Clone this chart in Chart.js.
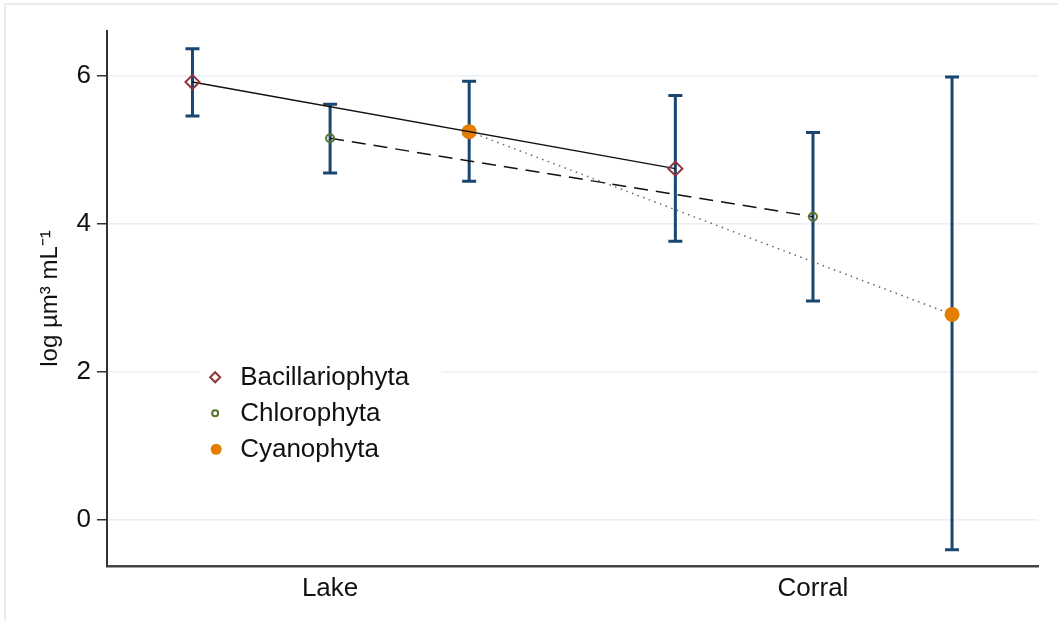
<!DOCTYPE html>
<html>
<head>
<meta charset="utf-8">
<script src="https://cdn.jsdelivr.net/npm/chart.js@4/dist/chart.umd.min.js"></script>
<style>
  html, body { margin: 0; padding: 0; background: #fff; }
  #wrap { position: relative; width: 1058px; height: 621px; }
  #frame { position: absolute; left: 4px; top: 3px; right: 0; bottom: 0;
           border-left: 2px solid #e8edf2; border-top: 2px solid #e8edf2; }
  canvas { position: absolute; left: 0; top: 0; }
</style>
</head>
<body>
<div id="wrap">
  <div id="frame"></div>
  <canvas id="chart" width="1058" height="621"></canvas>
</div>
<script>
// categories on the x axis and where each group sits relative to them
const categories = ['Lake', 'Corral'];
const categoryPos = [1, 2];
const groupOffset = [-0.285, 0, 0.288];
const yTicks = [0, 2, 4, 6];

const seriesNames = ['Bacillariophyta', 'Chlorophyta', 'Cyanophyta'];

// log µm³ mL⁻¹ : mean and 95% CI, per category
const bacMean = [5.92, 4.75];
const bacLow  = [5.46, 3.77];
const bacHigh = [6.37, 5.74];

const chlMean = [5.16, 4.10];
const chlLow  = [4.69, 2.96];
const chlHigh = [5.62, 5.24];

const cyaMean = [5.25, 2.78];
const cyaLow  = [4.58, -0.40];
const cyaHigh = [5.93, 5.99];

const NAVY = '#1a476f';
const MAROON = '#90353b';
const GREEN = '#55752f';
const ORANGE = '#e37e00';
const FONT = "'Liberation Sans', Arial, Helvetica, sans-serif";

function points(mean, low, high, k) {
    return mean.map((m, i) => ({ x: categoryPos[i] + groupOffset[k], y: m, lo: low[i], hi: high[i] }));
}

// error bars are drawn under the lines
const errorBars = {
    id: 'errorBars',
    beforeDatasetsDraw(chart) {
        const { ctx, scales: { x, y } } = chart;
        ctx.save();
        ctx.strokeStyle = NAVY;
        ctx.lineWidth = 3;
        chart.data.datasets.forEach(ds => {
            ds.data.forEach(p => {
                const px = x.getPixelForValue(p.x);
                const top = y.getPixelForValue(p.hi);
                const bot = y.getPixelForValue(p.lo);
                ctx.beginPath();
                ctx.moveTo(px, top); ctx.lineTo(px, bot);
                ctx.moveTo(px - 7, top); ctx.lineTo(px + 7, top);
                ctx.moveTo(px - 7, bot); ctx.lineTo(px + 7, bot);
                ctx.stroke();
            });
        });
        ctx.restore();
    }
};

// legend box inside the plot
const insideLegend = {
    id: 'insideLegend',
    beforeDatasetsDraw(chart) {
        const { ctx, scales: { x, y } } = chart;
        const left = x.getPixelForValue(0.762);
        const top = y.getPixelForValue(2.12);
        ctx.save();
        ctx.fillStyle = '#fff';
        ctx.fillRect(left - 16, top - 6, 242, 108);
        ctx.font = '26px ' + FONT;
        ctx.textBaseline = 'middle';
        const rows = [top + 14, top + 50, top + 86];
        const mx = left;
        // diamond
        ctx.strokeStyle = MAROON; ctx.lineWidth = 2;
        ctx.beginPath();
        ctx.moveTo(mx, rows[0] - 5); ctx.lineTo(mx + 5, rows[0]);
        ctx.lineTo(mx, rows[0] + 5); ctx.lineTo(mx - 5, rows[0]);
        ctx.closePath(); ctx.stroke();
        // hollow circle
        ctx.strokeStyle = GREEN;
        ctx.beginPath(); ctx.arc(mx, rows[1], 3, 0, Math.PI * 2); ctx.stroke();
        // filled circle
        ctx.fillStyle = ORANGE;
        ctx.beginPath(); ctx.arc(mx + 1, rows[2], 5.5, 0, Math.PI * 2); ctx.fill();
        ctx.fillStyle = '#111';
        seriesNames.forEach((n, i) => ctx.fillText(n, mx + 25, rows[i] + 1));
        ctx.restore();
    }
};

new Chart(document.getElementById('chart'), {
    type: 'line',
    data: {
        datasets: [
            {
                label: seriesNames[0],
                data: points(bacMean, bacLow, bacHigh, 0),
                borderColor: '#111',
                borderWidth: 1.5,
                pointStyle: 'rectRot',
                pointRadius: 7,
                pointBorderColor: MAROON,
                pointBackgroundColor: 'rgba(0,0,0,0)',
                pointBorderWidth: 2
            },
            {
                label: seriesNames[1],
                data: points(chlMean, chlLow, chlHigh, 1),
                borderColor: '#111',
                borderWidth: 1.5,
                borderDash: [14, 8],
                pointStyle: 'circle',
                pointRadius: 4,
                pointBorderColor: GREEN,
                pointBackgroundColor: 'rgba(0,0,0,0)',
                pointBorderWidth: 2
            },
            {
                label: seriesNames[2],
                data: points(cyaMean, cyaLow, cyaHigh, 2),
                borderColor: '#666',
                borderWidth: 1.5,
                borderDash: [1.5, 4.5],
                pointStyle: 'circle',
                pointRadius: 7.5,
                pointBorderWidth: 0,
                pointBackgroundColor: ORANGE,
                pointBorderColor: ORANGE
            }
        ]
    },
    options: {
        responsive: false,
        animation: false,
        devicePixelRatio: 1,
        layout: { padding: { top: 31, right: 20, left: 0, bottom: 0 } },
        plugins: { legend: { display: false }, tooltip: { enabled: false } },
        elements: { line: { tension: 0 } },
        scales: {
            x: {
                type: 'linear',
                min: 0.538,
                max: 2.466,
                afterBuildTicks: s => { s.ticks = categoryPos.map(v => ({ value: v })); },
                afterFit: s => { s.height = 55; },
                grid: { display: false, drawTicks: false },
                border: { display: true, color: '#444', width: 2.5 },
                ticks: {
                    padding: 7,
                    color: '#111',
                    font: { family: FONT, size: 26 },
                    callback: v => categories[categoryPos.indexOf(v)] || ''
                }
            },
            y: {
                min: -0.62,
                max: 6.61,
                afterBuildTicks: s => { s.ticks = yTicks.map(v => ({ value: v })); },
                afterFit: s => { s.width = 107; },
                grid: { color: '#eaeff3', lineWidth: 1.5, drawTicks: true, tickLength: 10, tickColor: '#333', tickWidth: 1.5 },
                border: { display: true, color: '#333', width: 2 },
                ticks: {
                    padding: 6,
                    color: '#111',
                    font: { family: FONT, size: 26 }
                },
                title: {
                    display: true,
                    text: 'log µm³ mL⁻¹',
                    color: '#111',
                    font: { family: FONT, size: 24 },
                    padding: { top: 36, bottom: 0 }
                }
            }
        }
    },
    plugins: [errorBars, insideLegend]
});
</script>
</body>
</html>
